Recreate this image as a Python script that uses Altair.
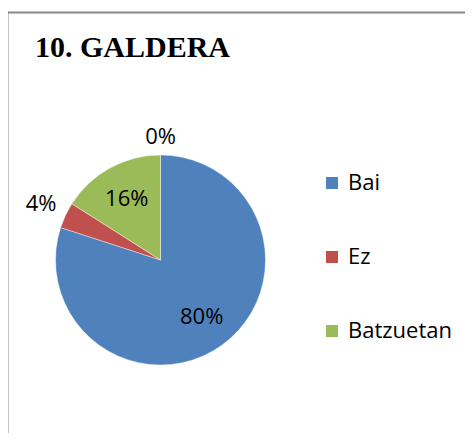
import altair as alt
import pandas as pd

# ---- data ----
categories = ["Bai", "Ez", "Batzuetan"]
values = [80, 4, 16]
colors = ["#4F81BD", "#C0504D", "#9BBB59"]

label_categories = ["Bai", "Ez", "Batzuetan", "-"]
label_values = [80, 4, 16, 0]
label_texts = ["80%", "4%", "16%", "0%"]

title_text = "10. GALDERA"

slices = pd.DataFrame({
    "kategoria": categories,
    "balioa": values,
    "ordena": list(range(len(categories))),
})
labels = pd.DataFrame({
    "kategoria": label_categories,
    "balioa": label_values,
    "testua": label_texts,
    "ordena": list(range(len(label_categories))),
})

CX, CY, R = 152.5, 252, 105
FONT = "Open Sans"
FRAME = "#878787"

dummy = pd.DataFrame({"a": [0]})

frame_top = alt.Chart(dummy).mark_rule(color=FRAME, strokeWidth=2).encode(
    x=alt.value(-2), x2=alt.value(470), y=alt.value(4.5)
)
frame_left = alt.Chart(dummy).mark_rule(color=FRAME, strokeWidth=2).encode(
    x=alt.value(-0.5), y=alt.value(3.5), y2=alt.value(440)
)

arcs = alt.Chart(slices).mark_arc(outerRadius=R, stroke="white", strokeWidth=0.4).encode(
    theta=alt.Theta("balioa:Q", stack=True),
    color=alt.Color(
        "kategoria:N",
        sort=categories,
        scale=alt.Scale(domain=categories, range=colors),
        legend=alt.Legend(
            title=None,
            orient="none",
            legendX=313,
            legendY=164,
            symbolType="square",
            symbolSize=144,
            symbolStrokeWidth=0,
            labelFont=FONT,
            labelFontSize=22,
            labelColor="black",
            labelOffset=5,
            rowPadding=52,
            padding=0,
        ),
    ),
    order=alt.Order("ordena:Q"),
    x=alt.value(CX),
    y=alt.value(CY),
)

texts = alt.Chart(labels).transform_window(
    cum="sum(balioa)", sort=[alt.SortField("ordena", order="ascending")],
    frame=[None, 0],
).transform_calculate(
    mid="datum.cum - datum.balioa / 2",
    r="datum.balioa >= 10 ? 70 : 123 + 10 * abs(sin(datum.mid / 100 * 2 * PI))",
).mark_text(font=FONT, fontSize=22, color="black").encode(
    theta=alt.Theta("mid:Q", scale=alt.Scale(domain=[0, 100], range=[0, 6.283185307179586])),
    radius=alt.Radius("r:Q", scale=None),
    text=alt.Text("testua:N"),
    x=alt.value(CX),
    y=alt.value(CY),
)

chart = alt.layer(frame_top, frame_left, arcs, texts).resolve_scale(
    theta="independent"
).properties(
    width=457,
    height=425,
    padding=0,
    autosize="none",
    background="white",
    title=alt.Title(
        title_text,
        anchor="start",
        frame="group",
        font="Liberation Serif",
        fontSize=30,
        fontWeight="bold",
        color="black",
        baseline="alphabetic",
        offset=0,
        dx=27,
        dy=79,
    ),
).configure_view(stroke=None)

chart.save("out.html", embed_options={"renderer": "svg", "actions": False})
